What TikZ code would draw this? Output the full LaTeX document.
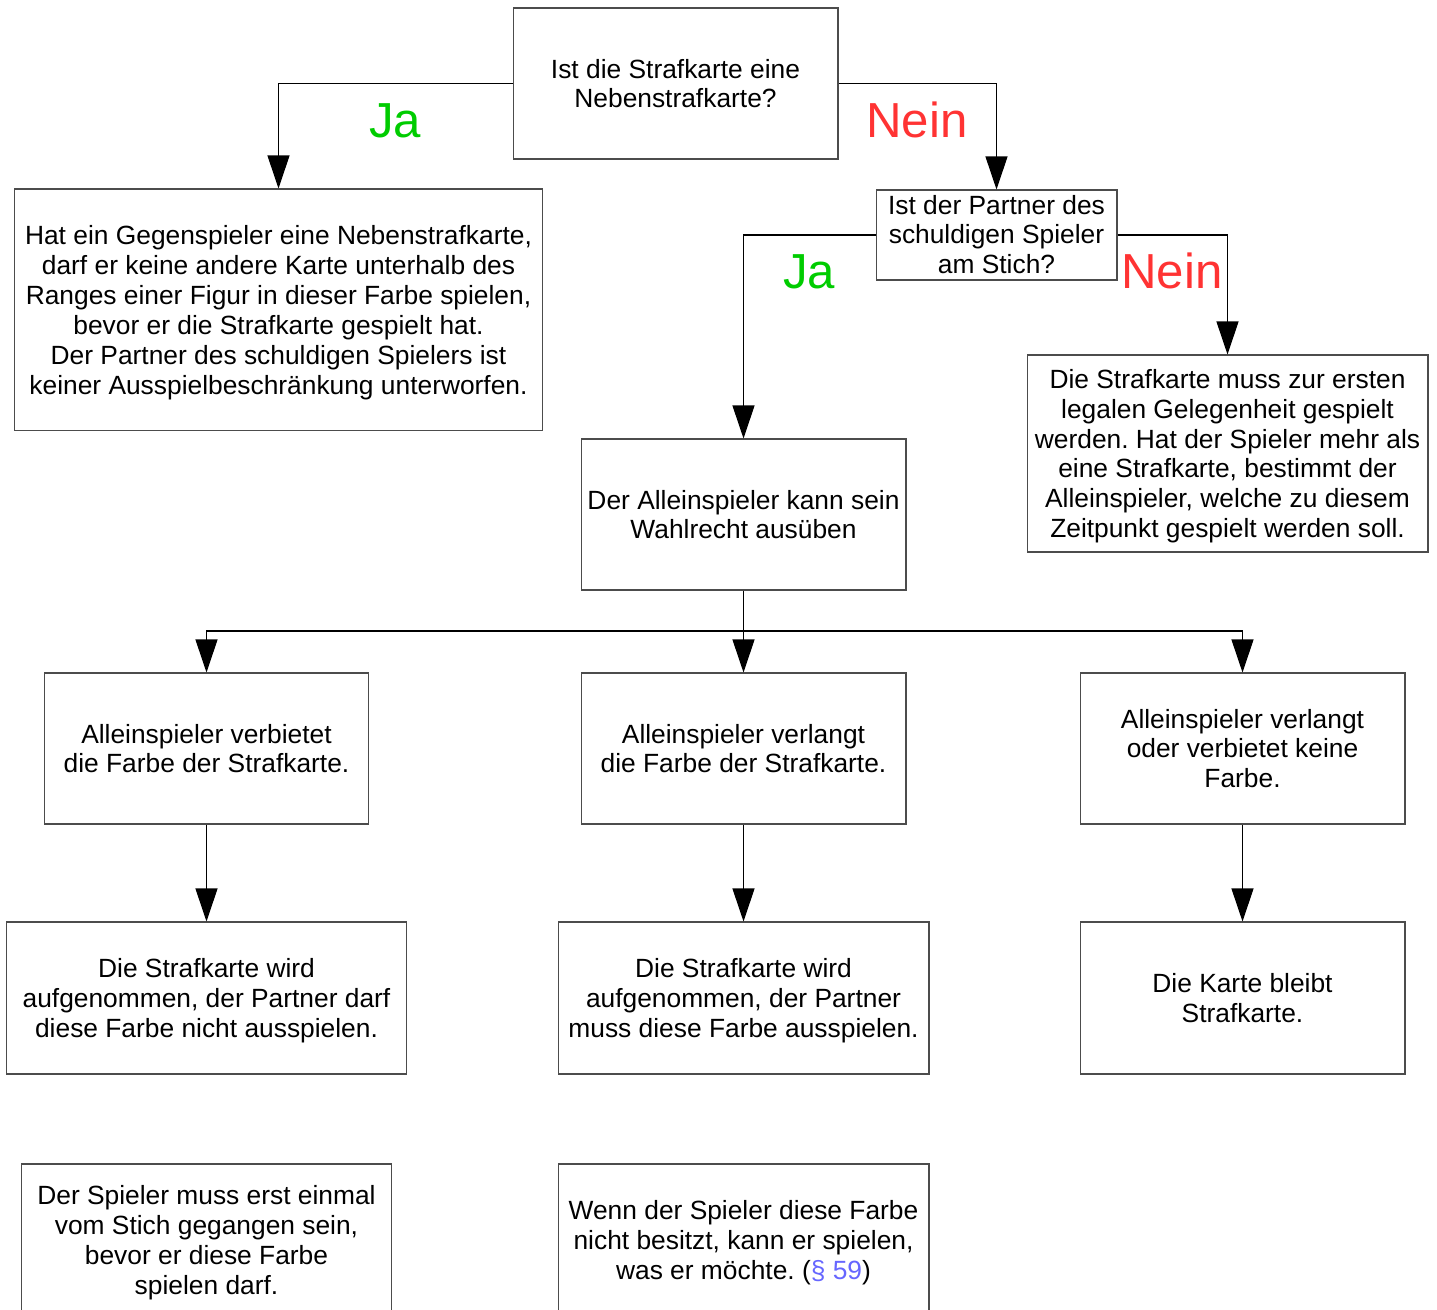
\documentclass[tikz,border=0pt]{standalone}
\usepackage{fontspec}
\setmainfont{Liberation Sans}
\usepackage{xcolor}
\usetikzlibrary{arrows.meta}

\definecolor{jagreen}{RGB}{0,204,0}
\definecolor{neinred}{RGB}{255,51,51}
\definecolor{linkblue}{RGB}{102,102,255}
\newcommand{\boxtext}[2][15.9pt]{\begin{tabular}{@{}c@{}}\rule{0pt}{#1}#2\end{tabular}}
\frenchspacing

\begin{document}
\begin{tikzpicture}[x=0.02cm, y=-0.02cm,
        box/.style={draw=black!70, line width=0.6pt, inner sep=0pt,
            font=\fontsize{15}{17}\selectfont},
        arr/.style={line width=0.6pt, -{Triangle[length=0.66cm, width=0.44cm]}},
        ja/.style={text=jagreen, anchor=base, font=\fontsize{28}{32}\selectfont},
        nein/.style={text=neinred, anchor=base, font=\fontsize{28}{32}\selectfont}]
        \useasboundingbox (0,0) rectangle (1437,1310);

        % questions
        \node[box, minimum width=6.5cm, minimum height=3.02cm] (neben) at (675.5,83.5)
            {\boxtext{Ist die Strafkarte eine\\Nebenstrafkarte?}};
        \node[box, inner ysep=-1.7pt, minimum width=4.82cm, minimum height=1.8cm] (partner) at (996.5,235)
            {\boxtext[15.3pt]{Ist der Partner des\\schuldigen Spieler\\am Stich?}};

        % answers
        \node[box, minimum width=10.58cm, minimum height=4.84cm] (gegen) at (278.5,310)
            {\boxtext{Hat ein Gegenspieler eine Nebenstrafkarte,\\darf er keine andere Karte unterhalb des\\Ranges einer Figur in dieser Farbe spielen,\\bevor er die Strafkarte gespielt hat.\\Der Partner des schuldigen Spielers ist\\keiner Ausspielbeschr\"ankung unterworfen.}};
        \node[box, minimum width=8.02cm, minimum height=3.94cm] (erste) at (1227.5,453.5)
            {\boxtext{Die Strafkarte muss zur ersten\\legalen Gelegenheit gespielt\\werden. Hat der Spieler mehr als\\eine Strafkarte, bestimmt der\\Alleinspieler, welche zu diesem\\Zeitpunkt gespielt werden soll.}};
        \node[box, minimum width=6.5cm, minimum height=3.02cm] (wahl) at (743.5,514.5)
            {\boxtext{Der Alleinspieler kann sein\\Wahlrecht aus\"uben}};

        % choices
        \node[box, minimum width=6.5cm, minimum height=3.02cm] (verbot) at (206.5,748.5)
            {\boxtext{Alleinspieler verbietet\\die Farbe der Strafkarte.}};
        \node[box, minimum width=6.5cm, minimum height=3.02cm] (verlangt) at (743.5,748.5)
            {\boxtext{Alleinspieler verlangt\\die Farbe der Strafkarte.}};
        \node[box, minimum width=6.5cm, minimum height=3.02cm] (keine) at (1242.5,748.5)
            {\boxtext{Alleinspieler verlangt\\oder verbietet keine\\Farbe.}};

        % results
        \node[box, minimum width=8.02cm, minimum height=3.04cm] (aufverbot) at (206.5,998)
            {\boxtext{Die Strafkarte wird\\aufgenommen, der Partner darf\\diese Farbe nicht ausspielen.}};
        \node[box, minimum width=7.42cm, minimum height=3.04cm] (aufmuss) at (743.5,998)
            {\boxtext{Die Strafkarte wird\\aufgenommen, der Partner\\muss diese Farbe ausspielen.}};
        \node[box, minimum width=6.5cm, minimum height=3.04cm] (bleibt) at (1242.5,998)
            {\boxtext{Die Karte bleibt\\Strafkarte.}};

        % notes
        \node[box, minimum width=7.42cm, minimum height=3.04cm] (stich) at (206.5,1240)
            {\boxtext{Der Spieler muss erst einmal\\vom Stich gegangen sein,\\bevor er diese Farbe\\spielen darf.}};
        \node[box, minimum width=7.42cm, minimum height=3.04cm] (besitzt) at (743.5,1240)
            {\boxtext{Wenn der Spieler diese Farbe\\nicht besitzt, kann er spielen,\\was er m\"ochte. ({\color{linkblue}\S\ 59})}};

        % connectors
        \draw[arr] (neben.west) -| (gegen.north);
        \draw[arr] (neben.east) -| (partner.north);
        \draw[arr] (partner.west) -| (wahl.north);
        \draw[arr] (partner.east) -| (erste.north);
        \coordinate (split) at (743.5,631);
        \draw[arr] (wahl.south) -- (verlangt.north);
        \draw[arr] (split) -| (verbot.north);
        \draw[arr] (split) -| (keine.north);
        \draw[arr] (verbot.south) -- (aufverbot.north);
        \draw[arr] (verlangt.south) -- (aufmuss.north);
        \draw[arr] (keine.south) -- (bleibt.north);

        % labels
        \node[ja] (ja1) at (395,138) {Ja};
        \node[nein] (nein1) at (917,138) {Nein};
        \node[ja] (ja2) at (809,289) {Ja};
        \node[nein] (nein2) at (1172,289) {Nein};
\end{tikzpicture}
\end{document}
